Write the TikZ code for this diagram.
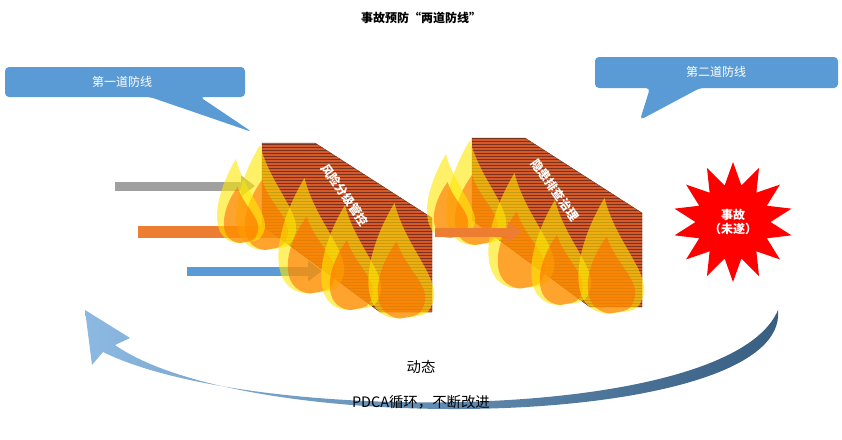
\documentclass[tikz,border=0pt]{standalone}
\usepackage{fontspec}
\setmainfont{Noto Sans CJK SC}
\usetikzlibrary{shapes.geometric,patterns,arrows.meta}
\begin{document}
\begin{tikzpicture}[x=1pt,y=-1pt,
  wall/.style={fill=brickred, draw=brickdark},
  fat/.style={line width=9pt,-{Triangle[length=14pt,width=20pt]}}]
\definecolor{calloutblue}{RGB}{91,155,213}
\definecolor{brickred}{RGB}{214,90,40}
\definecolor{brickdark}{RGB}{120,50,30}
\definecolor{arrgray}{RGB}{160,160,160}
\definecolor{arrorange}{RGB}{237,125,49}
\definecolor{arrblue}{RGB}{91,155,213}
\useasboundingbox (0,0) rectangle (842,439);
\node[font=\bfseries\large] (title) at (421,18) {事故预防“两道防线”};
% callouts
\fill[calloutblue,rounded corners=4pt] (5,67) -- (245,67) -- (245,97) -- (200,97) -- (252,132) -- (150,97) -- (5,97) -- cycle;
\node[white,font=\large] (c1) at (122,82) {第一道防线};
\fill[calloutblue,rounded corners=4pt] (595,57) -- (838,57) -- (838,88) -- (700,88) -- (640,120) -- (650,88) -- (595,88) -- cycle;
\node[white,font=\large] (c2) at (716,72) {第二道防线};
% arrows
\draw[arrgray,fat] (115,186) -- (255,186) coordinate (g);
\draw[arrorange,line width=12pt] (138,232) -- (318,232) coordinate (o1);
\draw[arrblue,fat] (187,271) -- (322,271) coordinate (b);
% walls
\foreach \dx/\dy/\txt/\nm in {0/0/风险分级管控/w1, 210/-5/隐患排查治理/w2}{
 \begin{scope}[shift={(\dx,\dy)}]
  \filldraw[wall] (262,143) -- (315,143) -- (432,218) -- (432,312) -- (380,312) -- (262,225) -- cycle;
  \fill[pattern=horizontal lines,pattern color=brickdark] (262,143) -- (315,143) -- (432,218) -- (432,312) -- (380,312) -- (262,225) -- cycle;
  \foreach \cx/\cy/\s in {265/215/1, 310/255/1.1, 350/275/1, 400/280/1.1, 240/215/0.8}{
   \fill[yellow!90!orange,fill opacity=0.6] (\cx,\cy+35*\s) .. controls (\cx-40*\s,\cy+35*\s) and (\cx-35*\s,\cy-20*\s) .. (\cx-5*\s,\cy-70*\s) .. controls (\cx+5*\s,\cy-30*\s) and (\cx+38*\s,\cy) .. (\cx+30*\s,\cy+20*\s) .. controls (\cx+25*\s,\cy+32*\s) .. (\cx,\cy+35*\s);
   \fill[orange!80!red,fill opacity=0.55] (\cx,\cy+35*\s) .. controls (\cx-28*\s,\cy+32*\s) and (\cx-25*\s,\cy-5*\s) .. (\cx-3*\s,\cy-35*\s) .. controls (\cx+5*\s,\cy-10*\s) and (\cx+28*\s,\cy+5*\s) .. (\cx+22*\s,\cy+22*\s) .. controls (\cx+18*\s,\cy+32*\s) .. (\cx,\cy+35*\s);
  }
  \node[white,font=\bfseries\large,rotate=-55,inner sep=0] (\nm) at (345,195) {\txt};
 \end{scope}}
\draw[arrorange,fat] (435,232) -- (522,232) coordinate (o2);
% star
\node[star,star points=14,star point ratio=1.6,fill=red,minimum size=120pt,inner sep=0] (acc) at (733,222) {};
\node[white,font=\bfseries\large,align=center] (acct) at (733,222) {事故\\（未遂）};
% bottom cycle arrow
\shade[left color=calloutblue!70,right color=calloutblue!60!black] (778,310) .. controls (790,430) and (250,440) .. (115,345) -- (130,338) -- (85,310) -- (92,365) -- (103,352) .. controls (250,425) and (730,425) .. (778,310) -- cycle;
\node[font=\Large] (t1) at (421,367) {动态};
\node[font=\Large] (t2) at (421,402) {PDCA循环，不断改进};
\end{tikzpicture}
\end{document}
